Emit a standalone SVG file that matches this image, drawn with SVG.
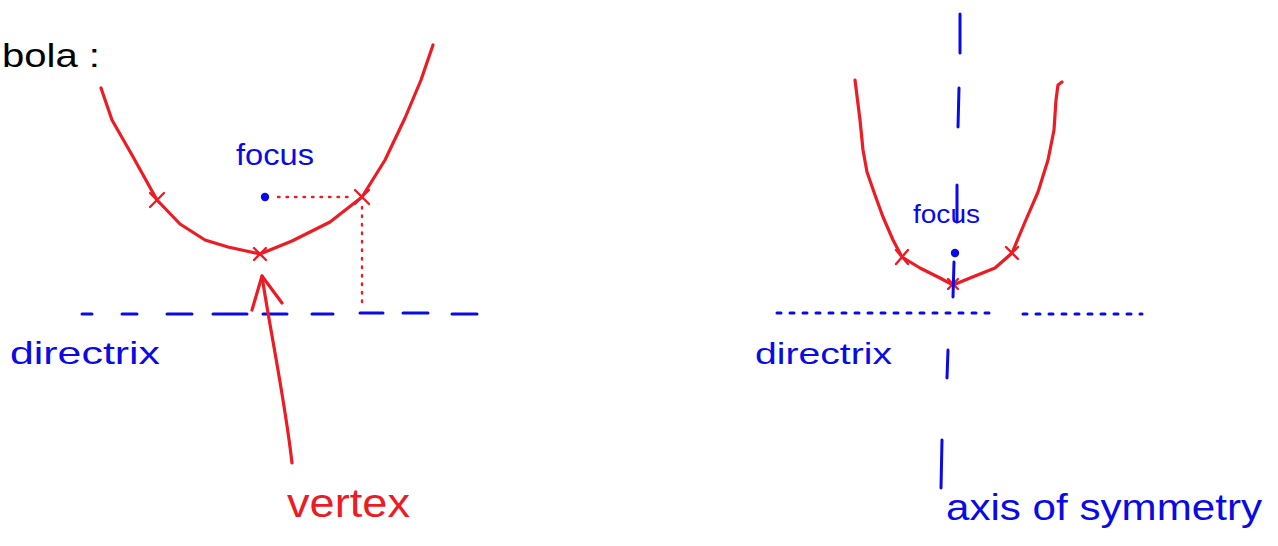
<svg xmlns="http://www.w3.org/2000/svg" width="1278" height="546" viewBox="0 0 1278 546">
<style>
.red{stroke:#ec1c24;fill:none;stroke-width:3.2;stroke-linecap:round;stroke-linejoin:round}
.redthin{stroke:#ec1c24;fill:none;stroke-width:2.4;stroke-linecap:round}
.blue{stroke:#0a0ae6;fill:none;stroke-width:3;stroke-linecap:round}
.dot{stroke-dasharray:1.5 7}
.t{font-family:"Liberation Sans",Arial,sans-serif}
.tb{fill:#0a0ae6}
.tr{fill:#ec1c24}
</style>
<rect width="1278" height="546" fill="#ffffff"/>

<g id="title">
<text class="t" x="2" y="67" font-size="34" fill="#000" textLength="98" lengthAdjust="spacingAndGlyphs">bola :</text>
</g>

<g id="left-parabola">
<path class="red" d="M101,88 L112,120 L132,155 L157,200 L180,224 L205,240 L228,247 L260,254 L292,241 L330,222 L362,197 L385,160 L405,118 L421,80 L433,45"/>
<path class="redthin" d="M150,193 L164,207 M164,193 L150,207"/>
<path class="redthin" d="M254,248 L266,260 M266,248 L254,260"/>
<path class="redthin" d="M355,190 L369,204 M369,190 L355,204"/>
</g>

<g id="left-focus">
<circle cx="265" cy="197" r="4.2" fill="#0a0ae6"/>
<text class="t tb" x="236" y="165" font-size="30" textLength="78" lengthAdjust="spacingAndGlyphs">focus</text>
</g>

<g id="left-directrix">
<path class="blue" d="M82,314 H92 M122,314 H137 M167,314 H192 M213,314 H247 M263,314 H287 M312,314 H333 M360,313 H383 M403,313 H428 M452,314 H477"/>
<text class="t tb" x="10" y="364" font-size="32" textLength="150" lengthAdjust="spacingAndGlyphs">directrix</text>
</g>

<g id="vertex-label">
<text class="t tr" x="287" y="517" font-size="40" textLength="123" lengthAdjust="spacingAndGlyphs">vertex</text>
</g>

<g id="right-parabola">
<path class="red" d="M855,80 L860,120 L863,150 L867,172 L875,195 L883,217 L893,240 L902,257 L920,268 L940,278 L953,285 L975,276 L995,268 L1012,253 L1025,222 L1038,192 L1048,160 L1054,130 L1056,100 L1058,85 L1062,82"/>
<path class="redthin" d="M896,250 L908,264 M908,250 L896,264"/>
<path class="redthin" d="M948,279 L958,289 M958,279 L948,289"/>
<path class="redthin" d="M1006,247 L1018,259 M1018,247 L1006,259"/>
</g>

<g id="right-focus">
<circle cx="955" cy="253" r="4.2" fill="#0a0ae6"/>
<text class="t tb" x="913" y="223" font-size="25" textLength="67" lengthAdjust="spacingAndGlyphs">focus</text>
</g>

<g id="right-directrix">
<path class="blue" stroke-width="2.4" stroke-dasharray="4 9" d="M777,313 H990 M1023,314 H1142"/>
<text class="t tb" x="755" y="364" font-size="30" textLength="137" lengthAdjust="spacingAndGlyphs">directrix</text>
</g>

<g id="axis-of-symmetry">
<path class="blue" stroke-width="2.2" d="M960,14 L960,53 M959,88 L958,127 M957,185 L957,222 M954,262 L953,297 M948,350 L947,378 M942,440 L941,488"/>
<text class="t tb" x="946" y="520" font-size="36" textLength="316" lengthAdjust="spacingAndGlyphs">axis of symmetry</text>
</g>

<g id="connectors">
<path class="red" d="M292,463 C285,400 270,330 262,276"/>
<path class="red" d="M252,310 L262,276 L282,303"/>
<path class="redthin dot" d="M278,197 H352"/>
<path class="redthin dot" d="M362,207 V309"/>
</g>
</svg>
